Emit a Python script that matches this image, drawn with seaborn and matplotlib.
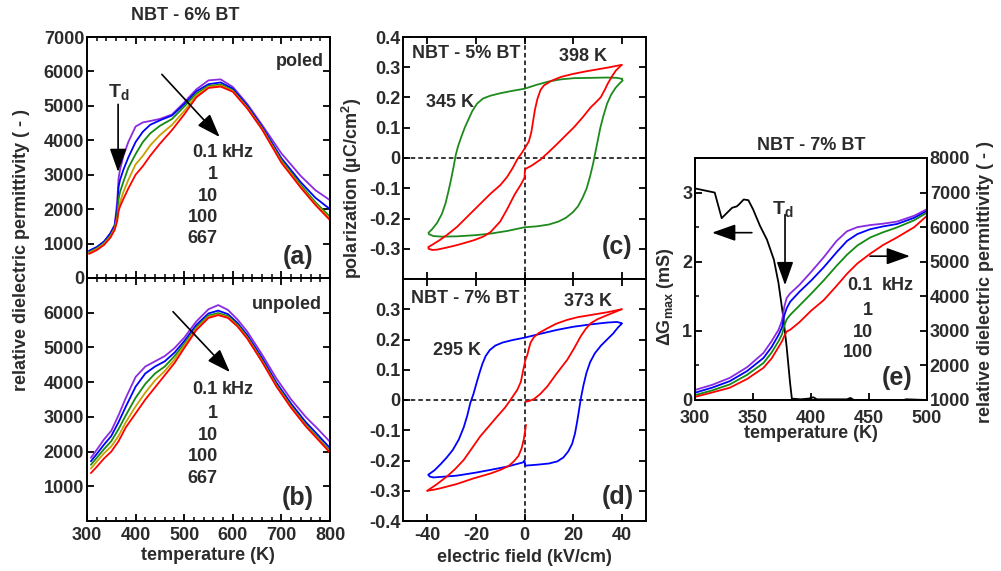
import numpy as np
import pandas as pd
import matplotlib
matplotlib.use("Agg")
import matplotlib.pyplot as plt
from matplotlib.ticker import MultipleLocator
import seaborn as sns

# ---------------- data ----------------
freqs_ab = ["0.1", "1", "10", "100", "667"]
freqs_e = ["0.1", "1", "10", "100"]
colors5 = ["#8a2be2", "#0000ff", "#138a13", "#c8a000", "#ff0000"]
colors4 = ["#8a2be2", "#0000ff", "#138a13", "#ff0000"]

# (a) poled NBT-6%BT
T_a = [304, 320, 335, 348, 357, 362, 365, 368, 375, 385, 400, 415, 430, 450, 475,
       500, 525, 550, 575, 600, 630, 660, 700, 740, 770, 800]
eps_a_01 = [760, 880, 1050, 1300, 1550, 2200, 2900, 3150, 3550, 3950, 4400, 4520, 4560, 4620, 4750,
            5100, 5480, 5740, 5770, 5550, 5050, 4450, 3620, 2960, 2550, 2260]
eps_a_1 = [790, 900, 1060, 1290, 1520, 2000, 2650, 2850, 3150, 3500, 3950, 4250, 4450, 4580, 4720,
           5050, 5420, 5630, 5680, 5500, 5000, 4400, 3480, 2780, 2330, 2000]
eps_a_10 = [750, 860, 1010, 1230, 1460, 1800, 2300, 2500, 2800, 3200, 3600, 3950, 4200, 4420, 4620,
            4980, 5360, 5580, 5620, 5450, 4960, 4360, 3420, 2700, 2200, 1780]
eps_a_100 = [730, 840, 990, 1200, 1430, 1700, 2000, 2200, 2500, 2850, 3300, 3550, 3850, 4150, 4450,
             4850, 5300, 5550, 5590, 5430, 4940, 4340, 3380, 2650, 2150, 1720]
eps_a_667 = [700, 810, 960, 1170, 1400, 1650, 1950, 2080, 2300, 2600, 3000, 3250, 3550, 3900, 4300,
             4750, 5250, 5520, 5560, 5410, 4920, 4320, 3350, 2620, 2120, 1680]

# (b) unpoled NBT-6%BT
T_b = [308, 320, 335, 350, 365, 380, 400, 420, 440, 460, 480, 500, 525, 550, 570, 590,
       610, 630, 660, 690, 720, 750, 775, 800]
eps_b_01 = [1820, 2050, 2350, 2600, 3050, 3550, 4150, 4450, 4600, 4750, 4980, 5280, 5750, 6100, 6220, 6080,
            5800, 5450, 4800, 4100, 3500, 3000, 2650, 2280]
eps_b_1 = [1720, 1930, 2200, 2450, 2850, 3300, 3870, 4250, 4450, 4600, 4850, 5180, 5650, 5980, 6060, 5960,
           5700, 5350, 4700, 3980, 3380, 2850, 2480, 2100]
eps_b_10 = [1620, 1820, 2070, 2300, 2650, 3050, 3550, 3950, 4250, 4450, 4750, 5100, 5580, 5920, 5990, 5900,
            5650, 5300, 4640, 3920, 3310, 2780, 2400, 2020]
eps_b_100 = [1510, 1710, 1950, 2150, 2450, 2850, 3300, 3700, 4050, 4320, 4650, 5050, 5540, 5880, 5950, 5870,
             5620, 5270, 4610, 3890, 3280, 2750, 2370, 1990]
eps_b_667 = [1380, 1560, 1800, 2000, 2300, 2700, 3100, 3500, 3850, 4200, 4550, 4980, 5500, 5850, 5930, 5850,
             5600, 5250, 4590, 3870, 3260, 2730, 2350, 1970]

# (c) NBT-5%BT loops
E_c345 = [40, 38, 34, 28, 20.4, 15, 10, 5, 0, -5, -10, -14, -17, -19.5, -21.5, -23.2, -24.6, -26, -27.3,
          -28.3, -29.2, -30.2, -31.3, -32.5, -34, -36, -38.2, -39.5, -39.3, -37.5, -34, -27.8, -20, -14,
          -7, 0, 5, 10, 14, 17, 19.8, 22, 24, 25.6, 27, 28.2, 29.2, 30.2, 31.2, 32.5, 34, 35.7, 37.5,
          39.3, 40.4, 40]
P_c345 = [0.262, 0.265, 0.266, 0.265, 0.264, 0.26, 0.253, 0.242, 0.229, 0.222, 0.214, 0.206, 0.197, 0.18,
          0.155, 0.125, 0.1, 0.07, 0.04, 0.01, -0.03, -0.07, -0.11, -0.15, -0.185, -0.215, -0.237, -0.247,
          -0.252, -0.258, -0.26, -0.259, -0.255, -0.25, -0.241, -0.229, -0.226, -0.22, -0.21, -0.198, -0.18,
          -0.16, -0.13, -0.1, -0.06, -0.02, 0.02, 0.06, 0.1, 0.14, 0.18, 0.21, 0.232, 0.248, 0.256, 0.262]
E_c398_desc = [40, 35, 30, 25, 20, 15, 11, 8, 6.6, 5.3, 4.3, 3.5, 2.8, 1.8, 0.4, -1, -3, -5, -7.2, -10,
               -14, -20.9, -27.8, -32, -35, -38, -39.5]
P_c398_desc = [0.308, 0.3, 0.293, 0.286, 0.278, 0.268, 0.255, 0.24, 0.225, 0.195, 0.16, 0.12, 0.085, 0.055,
               0.036, 0.018, -0.005, -0.035, -0.063, -0.09, -0.118, -0.173, -0.228, -0.255, -0.272, -0.287, -0.294]
E_c398_asc = [-39.5, -39.5, -38, -36, -32, -27.8, -20.9, -17, -14, -10, -7.2, -4, -1.5, 0, 0.2, 1.1, 3, 6.6,
              10, 13.5, 17, 20.4, 24, 27.3, 29.5, 31.4, 33, 34.2, 36, 37.6, 40]
P_c398_asc = [-0.294, -0.3, -0.304, -0.303, -0.296, -0.288, -0.272, -0.26, -0.245, -0.21, -0.17, -0.12, -0.088,
              -0.065, -0.038, -0.033, -0.025, -0.005, 0.02, 0.047, 0.075, 0.102, 0.135, 0.168, 0.185, 0.201,
              0.225, 0.245, 0.27, 0.289, 0.308]

# (d) NBT-7%BT loops
E_d295 = [40, 38, 34, 27.3, 20, 13.5, 6.6, 0, -5, -9, -12, -14.3, -16, -17.3, -18.5, -19.6, -21, -22.3,
          -23.5, -25, -27, -29.5, -32, -34.5, -37, -39.6, -39, -37.5, -34, -27.8, -20, -14, -7, -0.5, 0,
          0.3, 5, 10, 13.5, 16, 18, 19.6, 20.8, 21.7, 22.5, 23.3, 24.3, 25.5, 27, 29, 31.5, 34, 36.5, 38.5, 40]
P_d295 = [0.254, 0.258, 0.256, 0.25, 0.242, 0.232, 0.219, 0.206, 0.198, 0.19, 0.18, 0.165, 0.145, 0.12, 0.09,
          0.06, 0.02, -0.01, -0.05, -0.09, -0.13, -0.165, -0.19, -0.212, -0.232, -0.247, -0.253, -0.256,
          -0.254, -0.25, -0.24, -0.231, -0.22, -0.206, -0.2, -0.217, -0.214, -0.21, -0.203, -0.19, -0.17,
          -0.145, -0.11, -0.07, -0.03, 0.01, 0.05, 0.09, 0.125, 0.155, 0.18, 0.2, 0.22, 0.24, 0.252]
E_d373_desc = [40, 34, 27.3, 22, 17.6, 13, 9.4, 6, 3.9, 2.5, 1.8, 1.2, 0.4, -0.5, -1.5, -3, -5.8, -8, -11.3,
               -15, -18.2, -21.5, -25, -28.5, -31.8, -36, -40]
P_d373_desc = [0.3, 0.29, 0.281, 0.274, 0.265, 0.252, 0.237, 0.222, 0.208, 0.19, 0.17, 0.15, 0.133, 0.1, 0.06,
               0.033, 0.0, -0.025, -0.055, -0.09, -0.12, -0.158, -0.198, -0.228, -0.252, -0.278, -0.3]
E_d373_asc1 = [-40, -37, -34.7, -28, -20.9, -14, -9.9, -6.5, -4.4, -2.5, -1.2, -0.3, 0.3, 0.6]
P_d373_asc1 = [-0.3, -0.296, -0.292, -0.278, -0.259, -0.243, -0.231, -0.218, -0.203, -0.185, -0.16, -0.13,
               -0.1, -0.082]
E_d373_asc2 = [0.4, 2, 3.9, 6.5, 9.4, 13, 17.6, 20.5, 23.1, 25.2, 27.3, 30, 34.2, 40]
P_d373_asc2 = [-0.006, -0.003, 0.003, 0.02, 0.045, 0.085, 0.133, 0.172, 0.21, 0.235, 0.254, 0.267, 0.281, 0.3]

# (e) NBT-7%BT
T_e = [300, 315, 330, 345, 359, 366, 372, 375, 377, 379, 382, 390, 400, 411, 422, 431, 440, 451, 462, 474, 489, 500]
eps_e_01 = [1290, 1440, 1640, 1950, 2360, 2700, 3030, 3300, 3700, 3950, 4080, 4330, 4700, 5130, 5600, 5880, 6000, 6060, 6100, 6160, 6330, 6520]
eps_e_1 = [1210, 1360, 1545, 1840, 2215, 2530, 2880, 3100, 3450, 3650, 3840, 4130, 4450, 4840, 5270, 5600, 5800, 5940, 6020, 6090, 6270, 6470]
eps_e_10 = [1140, 1280, 1450, 1730, 2070, 2370, 2700, 2900, 3150, 3330, 3460, 3730, 4070, 4460, 4880, 5200, 5470, 5700, 5850, 5990, 6200, 6420]
eps_e_100 = [1090, 1220, 1355, 1610, 1930, 2200, 2530, 2700, 2850, 2980, 3030, 3250, 3580, 3890, 4300, 4650, 4950, 5230, 5480, 5700, 6000, 6330]
T_g = [300, 317, 323, 326, 332, 336, 338, 342, 346, 350, 356, 362, 368, 372, 376, 379, 382, 383.5,
       391, 398, 402, 405, 431, 434, 437, 480, 482, 500]
G_max = [3.06, 3.0, 2.63, 2.68, 2.78, 2.80, 2.83, 2.90, 2.89, 2.76, 2.52, 2.32, 2.03, 1.69, 1.21, 0.77, 0.24, 0.02,
         0.01, 0.02, 0.04, 0.01, 0.01, 0.03, 0.0, 0.0, 0.01, 0.0]

# ---------------- style ----------------
sns.set_theme(style="ticks")
FS = 13
plt.rcParams.update({
    "font.family": ["Liberation Sans", "DejaVu Sans"],
    "font.weight": "bold",
    "axes.labelweight": "bold",
    "mathtext.fontset": "custom",
    "mathtext.rm": "Liberation Sans:bold",
    "mathtext.bf": "Liberation Sans:bold",
    "mathtext.it": "Liberation Sans:bold",
    "axes.edgecolor": "black",
    "axes.linewidth": 1.4,
    "xtick.direction": "in",
    "ytick.direction": "in",
    "xtick.color": "black",
    "ytick.color": "black",
    "xtick.labelcolor": "#2b2b2b",
    "ytick.labelcolor": "#2b2b2b",
    "xtick.labelsize": FS,
    "ytick.labelsize": FS,
    "xtick.major.size": 5,
    "ytick.major.size": 5,
    "xtick.minor.size": 3,
    "ytick.minor.size": 3,
    "xtick.major.width": 1.3,
    "ytick.major.width": 1.3,
    "xtick.minor.width": 1.1,
    "ytick.minor.width": 1.1,
    "xtick.major.pad": 4,
    "ytick.major.pad": 2,
})
TXT = "#2b2b2b"
LW = 1.3

W, H = 1001, 571
fig = plt.figure(figsize=(W / 100, H / 100), dpi=100)

def px_axes(l, t, r, b):
    return fig.add_axes([l / W, 1 - b / H, (r - l) / W, (b - t) / H])

axa = px_axes(87, 37, 330, 278)
axb = px_axes(87, 278, 330, 521)
axc = px_axes(403, 37, 646, 279)
axd = px_axes(403, 279, 646, 521)
axe = px_axes(695, 158, 927, 400)
axe2 = axe.twinx()

def long_df(T, series, names):
    rows = []
    for name, vals in zip(names, series):
        for t, v in zip(T, vals):
            rows.append((t, v, name))
    return pd.DataFrame(rows, columns=["T", "eps", "freq"])

df_a = long_df(T_a, [eps_a_01, eps_a_1, eps_a_10, eps_a_100, eps_a_667], freqs_ab)
df_b = long_df(T_b, [eps_b_01, eps_b_1, eps_b_10, eps_b_100, eps_b_667], freqs_ab)
df_e = long_df(T_e, [eps_e_01, eps_e_1, eps_e_10, eps_e_100], freqs_e)

sns.lineplot(data=df_a, x="T", y="eps", hue="freq", hue_order=freqs_ab, palette=colors5,
             estimator=None, sort=False, legend=False, lw=LW, ax=axa)
sns.lineplot(data=df_b, x="T", y="eps", hue="freq", hue_order=freqs_ab, palette=colors5,
             estimator=None, sort=False, legend=False, lw=LW, ax=axb)

# loops
sns.lineplot(x=E_c345, y=P_c345, sort=False, estimator=None, color="#1e8a1e", lw=LW, ax=axc)
sns.lineplot(x=E_c398_desc, y=P_c398_desc, sort=False, estimator=None, color="#ff0000", lw=LW, ax=axc)
sns.lineplot(x=E_c398_asc, y=P_c398_asc, sort=False, estimator=None, color="#ff0000", lw=LW, ax=axc)
sns.lineplot(x=E_d295, y=P_d295, sort=False, estimator=None, color="#0000ff", lw=LW, ax=axd)
sns.lineplot(x=E_d373_desc, y=P_d373_desc, sort=False, estimator=None, color="#ff0000", lw=LW, ax=axd)
sns.lineplot(x=E_d373_asc1, y=P_d373_asc1, sort=False, estimator=None, color="#ff0000", lw=LW, ax=axd)
sns.lineplot(x=E_d373_asc2, y=P_d373_asc2, sort=False, estimator=None, color="#ff0000", lw=LW, ax=axd)

# (e)
sns.lineplot(x=T_g, y=G_max, sort=False, estimator=None, color="black", lw=LW, ax=axe)
sns.lineplot(data=df_e, x="T", y="eps", hue="freq", hue_order=freqs_e, palette=colors4,
             estimator=None, sort=False, legend=False, lw=LW, ax=axe2)

for ax in [axa, axb, axc, axd, axe, axe2]:
    ax.set_xlabel("")
    ax.set_ylabel("")
    for s in ax.spines.values():
        s.set_visible(True)
        s.set_color("black")
        s.set_linewidth(1.4)

# ---- axes (a),(b)
for ax in [axa, axb]:
    ax.set_xlim(300, 800)
    ax.set_ylim(0, 7000)
    ax.xaxis.set_major_locator(MultipleLocator(100))
    ax.xaxis.set_minor_locator(MultipleLocator(20))
    ax.tick_params(axis="x", which="both", top=True, bottom=True)
    ax.tick_params(axis="y", which="both", left=True, right=True)
axa.set_yticks(range(0, 7001, 1000), [str(v) for v in range(0, 7001, 1000)])
axa.tick_params(axis="x", labelbottom=False)
axb.set_yticks(range(0, 7001, 1000), [""] + [str(v) for v in range(1000, 7000, 1000)] + [""])
axb.set_xticks(range(300, 801, 100), [str(v) for v in range(300, 801, 100)])

# ---- axes (c),(d)
ptick = [round(v, 1) for v in np.arange(-0.4, 0.41, 0.1)]
def plab(v):
    return "0" if abs(v) < 1e-9 else f"{v:.1f}"
for ax in [axc, axd]:
    ax.set_xlim(-50, 50)
    ax.set_ylim(-0.4, 0.4)
    ax.axhline(0, color="black", ls=(0, (3, 2)), lw=1.1, zorder=0)
    ax.axvline(0, color="black", ls=(0, (3, 2)), lw=1.1, zorder=0)
    ax.tick_params(axis="x", which="both", top=True, bottom=True)
    ax.tick_params(axis="y", which="both", left=True, right=True)
axc.set_yticks(ptick, [("" if v < -0.35 else plab(v)) for v in ptick])
axd.set_yticks(ptick, [("" if v > 0.35 else plab(v)) for v in ptick])
axc.set_xticks([-40, -20, 0, 20, 40], [""] * 5)
axd.set_xticks([-40, -20, 0, 20, 40], ["-40", "-20", "0", "20", "40"])

# ---- axes (e)
axe.set_xlim(300, 500)
axe.set_ylim(0, 3.5)
axe2.set_ylim(1000, 8000)
axe.set_xticks([300, 350, 400, 450, 500], ["300", "350", "400", "450", "500"])
axe.set_yticks([0, 1, 2, 3], ["0", "1", "2", "3"])
axe.yaxis.set_minor_locator(MultipleLocator(0.5))
axe.tick_params(axis="y", which="both", left=True, right=False)
axe2.set_yticks(range(1000, 8001, 1000), [str(v) for v in range(1000, 8001, 1000)])
axe2.tick_params(axis="y", which="both", right=True, left=False, direction="in")
axe.tick_params(axis="x", bottom=True, top=False, pad=7)

# ---------------- annotations ----------------
fs_txt = FS
fs_big = 18
arrow_kw = dict(arrowstyle="-|>,head_length=0.9,head_width=0.32", color="black", lw=1.2,
                shrinkA=0, shrinkB=0, mutation_scale=16)

def T(ax, x, y, s, **kw):
    d = dict(fontsize=fs_txt, fontweight="bold", color=TXT)
    d.update(kw)
    ax.text(x, y, s, **d)

# (a)
axa.text(0.403, 1 + 22 / 241, "NBT - 6% BT", transform=axa.transAxes, ha="center", va="center",
         fontsize=fs_txt, fontweight="bold", color=TXT)
T(axa, 788, 6274, "poled", ha="right", va="center")
T(axa, 366, 5100, r"T$_\mathrm{d}$", ha="center", va="bottom", fontsize=14)
axa.annotate("", xy=(364, 3078), xytext=(364, 5044), arrowprops=arrow_kw)
axa.annotate("", xy=(573, 4095), xytext=(454, 5915), arrowprops=arrow_kw)
yls_a = [3631, 2992, 2353, 1743, 1133]
for f, yy in zip(freqs_ab, yls_a):
    T(axa, 569, yy, f, ha="right", va="center")
T(axa, 578, yls_a[0], "kHz", ha="left", va="center")
T(axa, 734, 610, "(a)", ha="center", va="center", fontsize=fs_big)

# (b)
T(axb, 783, 6251, "unpoled", ha="right", va="center")
axb.annotate("", xy=(594, 4288), xytext=(477, 6029), arrowprops=arrow_kw)
yls_b = [3774, 3111, 2477, 1844, 1210]
for f, yy in zip(freqs_ab, yls_b):
    T(axb, 569, yy, f, ha="right", va="center")
T(axb, 578, yls_b[0], "kHz", ha="left", va="center")
T(axb, 734, 662, "(b)", ha="center", va="center", fontsize=fs_big)

# (c)
T(axc, -46.3, 0.347, "NBT - 5% BT", ha="left", va="center")
T(axc, 24.1, 0.334, "398 K", ha="center", va="center")
T(axc, -30.7, 0.185, "345 K", ha="center", va="center")
T(axc, 38.1, -0.294, "(c)", ha="center", va="center", fontsize=fs_big)
# (d)
T(axd, -46.7, 0.337, "NBT - 7% BT", ha="left", va="center")
T(axd, 26.1, 0.324, "373 K", ha="center", va="center")
T(axd, -27.8, 0.165, "295 K", ha="center", va="center")
T(axd, 38.5, -0.321, "(d)", ha="center", va="center", fontsize=fs_big)

# (e)
axe.text(0.5, 1 + 13 / 242, "NBT - 7% BT", transform=axe.transAxes, ha="center", va="center",
         fontsize=fs_txt, fontweight="bold", color=TXT)
axe.text(376, 2.62, r"T$_\mathrm{d}$", ha="center", va="bottom", fontsize=14, fontweight="bold", color=TXT)
axe.annotate("", xy=(377.6, 1.66), xytext=(377.6, 2.68), arrowprops=arrow_kw)
axe.annotate("", xy=(314.7, 2.42), xytext=(349, 2.42), arrowprops=arrow_kw)
axe.annotate("", xy=(485.3, 2.08), xytext=(450.9, 2.08), arrowprops=arrow_kw)
yls_e = [1.65, 1.30, 0.98, 0.68]
for f, yy in zip(freqs_e, yls_e):
    T(axe, 453.4, yy, f, ha="right", va="center")
T(axe, 461, yls_e[0], "kHz", ha="left", va="center")
T(axe, 474, 0.32, "(e)", ha="center", va="center", fontsize=fs_big)

# axis labels as figure text
def ftxt(x, y, s, rot=0):
    fig.text(x / W, 1 - y / H, s, ha="center", va="center", rotation=rot,
             fontsize=FS, fontweight="bold", color=TXT)

ftxt(208, 556, "temperature (K)")
ftxt(22, 250, "relative dielectric permittivity ( - )", 90)
ftxt(524, 558, "electric field (kV/cm)")
ftxt(352, 188, r"polarization (µC/cm$^\mathrm{2}$)", 90)
ftxt(811, 434, "temperature (K)")
ftxt(666, 297, r"ΔG$_\mathrm{max}$ (mS)", 90)
ftxt(986, 282, "relative dielectric permittivity ( - )", 90)

fig.savefig("out.png", dpi=100)
